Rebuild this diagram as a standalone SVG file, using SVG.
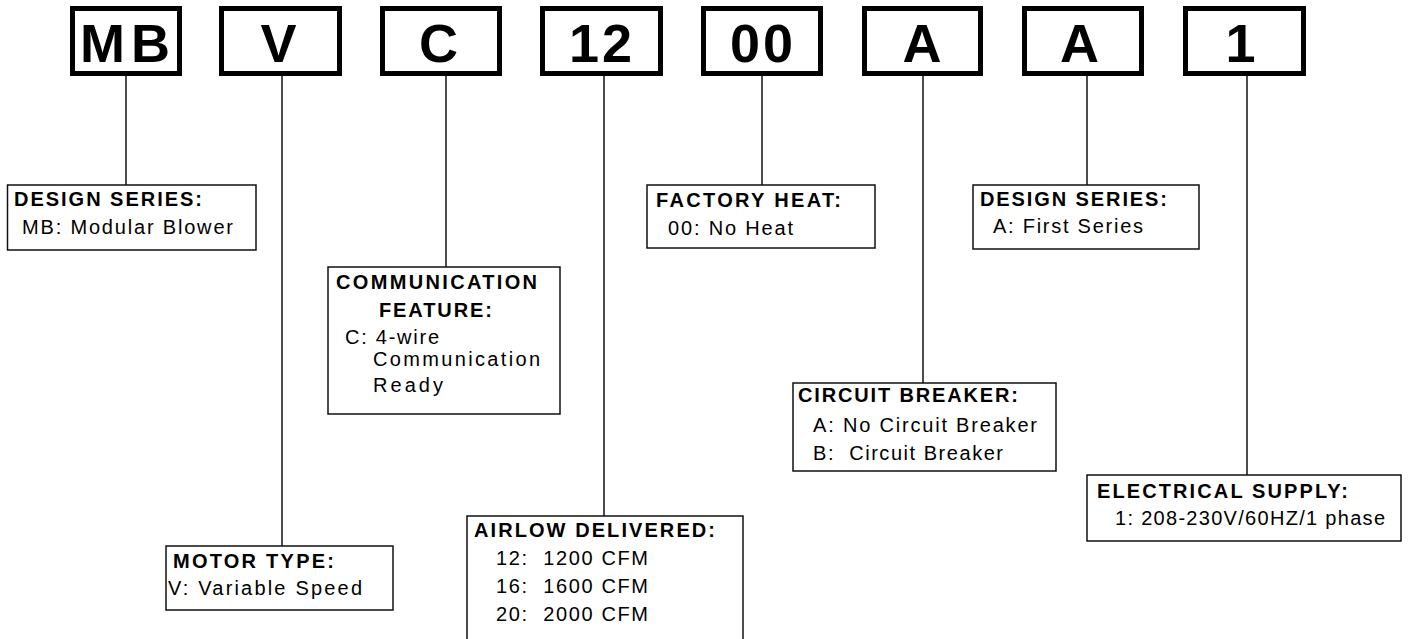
<svg xmlns="http://www.w3.org/2000/svg" width="1412" height="639" viewBox="0 0 1412 639">
<style>
.code rect{fill:#fff;stroke:#000;stroke-width:5}
.code text{font-family:"Liberation Sans",Arial,sans-serif;font-weight:bold;font-size:54px;fill:#000;text-anchor:middle;letter-spacing:3px}
.box rect{fill:#fff;stroke:#111;stroke-width:1.5}
.h{font-family:"Liberation Sans",Arial,sans-serif;font-weight:bold;font-size:20px;fill:#000;white-space:pre}
.t{font-family:"Liberation Sans",Arial,sans-serif;font-size:20px;fill:#000;white-space:pre}
#connectors line{stroke:#111;stroke-width:1.5}
</style>
<rect width="1412" height="639" fill="#fff"/>
<g id="connectors">
<line x1="126" y1="76" x2="126" y2="185"/>
<line x1="282" y1="76" x2="282" y2="546"/>
<line x1="446" y1="76" x2="446" y2="267"/>
<line x1="604" y1="76" x2="604" y2="516"/>
<line x1="762" y1="76" x2="762" y2="185"/>
<line x1="923" y1="76" x2="923" y2="383"/>
<line x1="1087" y1="76" x2="1087" y2="185"/>
<line x1="1247" y1="76" x2="1247" y2="475"/>
</g>
<g id="code-MB" class="code"><rect x="72.5" y="8.5" width="107" height="65"/><text x="128" y="62" style="letter-spacing:6px">MB</text></g>
<g id="code-V" class="code"><rect x="221.5" y="8.5" width="118" height="65"/><text x="280" y="62">V</text></g>
<g id="code-C" class="code"><rect x="382.5" y="8.5" width="117" height="65"/><text x="440" y="62">C</text></g>
<g id="code-12" class="code"><rect x="542.5" y="8.5" width="118" height="65"/><text x="602" y="62">12</text></g>
<g id="code-00" class="code"><rect x="703.5" y="8.5" width="117" height="65"/><text x="763" y="62">00</text></g>
<g id="code-A1" class="code"><rect x="864.5" y="8.5" width="116" height="65"/><text x="923.5" y="62">A</text></g>
<g id="code-A2" class="code"><rect x="1024.5" y="8.5" width="117" height="65"/><text x="1081" y="62">A</text></g>
<g id="code-1" class="code"><rect x="1185.5" y="8.5" width="118" height="65"/><text x="1242" y="62">1</text></g>

<g id="design-series-mb" class="box"><rect x="7.5" y="185" width="248.5" height="65"/>
<text class="h" x="14" y="206" textLength="188" lengthAdjust="spacing">DESIGN SERIES:</text>
<text class="t" x="22" y="234" textLength="211" lengthAdjust="spacing">MB: Modular Blower</text></g>

<g id="motor-type" class="box"><rect x="166" y="546" width="227" height="64"/>
<text class="h" x="173" y="568" textLength="161" lengthAdjust="spacing">MOTOR TYPE:</text>
<text class="t" x="168" y="595" textLength="194" lengthAdjust="spacing">V: Variable Speed</text></g>

<g id="communication" class="box"><rect x="328" y="267" width="232" height="147"/>
<text class="h" x="336" y="289" textLength="201" lengthAdjust="spacing">COMMUNICATION</text>
<text class="h" x="379" y="317" textLength="113" lengthAdjust="spacing">FEATURE:</text>
<text class="t" x="345" y="344" textLength="94" lengthAdjust="spacing">C: 4-wire</text>
<text class="t" x="373" y="366" textLength="167" lengthAdjust="spacing">Communication</text>
<text class="t" x="373" y="392" textLength="70" lengthAdjust="spacing">Ready</text></g>

<g id="airflow" class="box"><rect x="467" y="516" width="276" height="130"/>
<text class="h" x="474" y="537" textLength="241" lengthAdjust="spacing">AIRLOW DELIVERED:</text>
<text class="t" x="496" y="565" textLength="152" lengthAdjust="spacing">12:  1200 CFM</text>
<text class="t" x="496" y="593" textLength="152" lengthAdjust="spacing">16:  1600 CFM</text>
<text class="t" x="496" y="621" textLength="152" lengthAdjust="spacing">20:  2000 CFM</text></g>

<g id="factory-heat" class="box"><rect x="647" y="185" width="228" height="63"/>
<text class="h" x="656" y="207" textLength="185" lengthAdjust="spacing">FACTORY HEAT:</text>
<text class="t" x="668" y="235" textLength="125" lengthAdjust="spacing">00: No Heat</text></g>

<g id="circuit-breaker" class="box"><rect x="793" y="383" width="263" height="88"/>
<text class="h" x="798" y="402" textLength="220" lengthAdjust="spacing">CIRCUIT BREAKER:</text>
<text class="t" x="813" y="432" textLength="224" lengthAdjust="spacing">A: No Circuit Breaker</text>
<text class="t" x="813" y="460" textLength="190" lengthAdjust="spacing">B:  Circuit Breaker</text></g>

<g id="design-series-a" class="box"><rect x="973" y="185" width="226" height="64"/>
<text class="h" x="980" y="206" textLength="187" lengthAdjust="spacing">DESIGN SERIES:</text>
<text class="t" x="993" y="233" textLength="150" lengthAdjust="spacing">A: First Series</text></g>

<g id="electrical-supply" class="box"><rect x="1087" y="475" width="314" height="66"/>
<text class="h" x="1097" y="498" textLength="251" lengthAdjust="spacing">ELECTRICAL SUPPLY:</text>
<text class="t" x="1115" y="525" textLength="270" lengthAdjust="spacing">1: 208-230V/60HZ/1 phase</text></g>
</svg>
